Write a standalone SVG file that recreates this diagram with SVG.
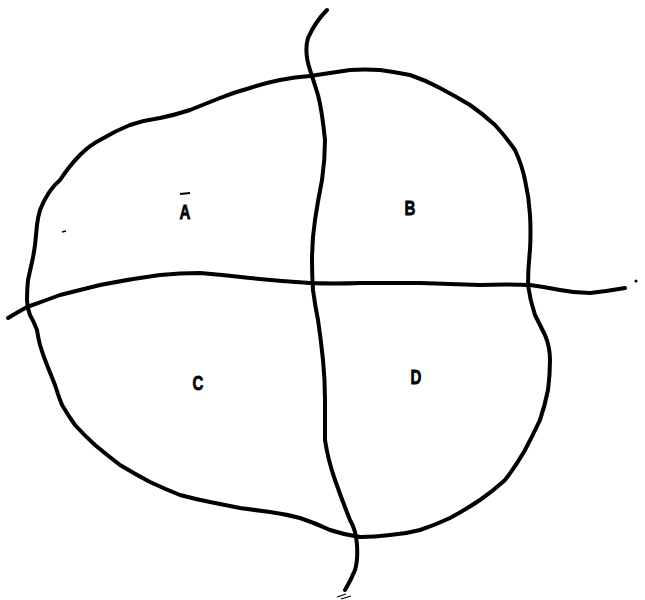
<svg xmlns="http://www.w3.org/2000/svg" width="645" height="600" viewBox="0 0 645 600">
<style>
.ln{fill:none;stroke:#000;stroke-width:4;stroke-linecap:round;stroke-linejoin:round}
.lb{font-family:"Liberation Sans",Arial,sans-serif;font-weight:bold;font-size:21px;fill:#000;stroke:#000;stroke-width:0.8;text-anchor:middle}
</style>
<rect width="645" height="600" fill="#fff"/>
<path class="ln" d="M40,210 Q48,190 60,180 Q70,165 80,155 Q90,145 100,140 Q115,131 130,125 Q145,120 160,118 Q175,115 190,110 Q205,104 220,98 Q235,92 250,88 Q265,83 280,80 Q295,77 310,76 Q330,73 350,70 Q365,69 380,70 Q395,72 410,75 Q425,80 440,88 Q455,96 470,105 Q483,114 495,125 Q506,137 515,150 Q522,165 525,180 Q529,197 530,215 Q531,232 530,250 Q528,268 528,285 Q530,300 535,315 Q540,325 545,335 Q550,347 550,360 Q550,375 548,390 Q545,405 540,420 Q533,435 525,450 Q516,466 505,480 Q493,491 480,500 Q465,510 450,518 Q435,525 420,530 Q405,534 390,535 Q375,537 360,537 Q345,535 330,530 Q315,523 300,518 Q285,514 270,512 Q255,510 240,508 Q225,505 210,502 Q195,499 180,495 Q165,489 150,482 Q135,474 120,465 Q107,455 95,445 Q84,435 75,425 Q68,415 62,405 Q58,395 55,385 Q51,375 47,365 Q43,355 40,345 Q38,337 37,330 Q34,322 30,315 Q27,307 27,300 Q27,290 28,280 Q30,271 32,262 Q34,253 35,245 Q36,235 37,225 Q38,217 40,210 Z"/>
<path class="ln" d="M8,318 Q18,312 27,307 Q44,301 60,295 Q80,290 100,285 Q130,279 160,275 Q180,273 200,273 Q225,275 250,278 Q280,281 310,283 Q335,284 360,283 Q390,283 420,283 Q450,284 480,285 Q505,284 530,285 Q545,287 560,290 Q575,293 590,293 Q608,291 625,288"/>
<path class="ln" d="M327,10 Q315,22 308,38 Q304,52 310,70 Q314,82 318,95 Q322,110 325,140 Q325,160 322,180 Q318,200 315,220 Q312,240 312,260 Q312,275 313,290 Q315,305 318,320 Q321,340 323,360 Q325,380 325,400 Q325,420 325,440 Q328,460 335,480 Q342,500 350,520 Q356,530 357,545 Q358,560 355,570 Q351,580 345,590"/>
<circle cx="636" cy="281" r="1.5" fill="#000"/>
<path d="M180,194 L190,193" stroke="#000" stroke-width="2" fill="none"/>
<path d="M62,232 L66,231" stroke="#000" stroke-width="1.5" fill="none"/>
<path d="M337,597 L346,594 M341,599 L351,596" stroke="#000" stroke-width="1.2" fill="none"/>
<g id="A"><text class="lb" transform="translate(185,219) scale(0.72,1)">A</text></g>
<g id="B"><text class="lb" transform="translate(410,215) scale(0.72,1)">B</text></g>
<g id="C"><text class="lb" transform="translate(198,390) scale(0.72,1)">C</text></g>
<g id="D"><text class="lb" transform="translate(416,384) scale(0.72,1)">D</text></g>
</svg>
